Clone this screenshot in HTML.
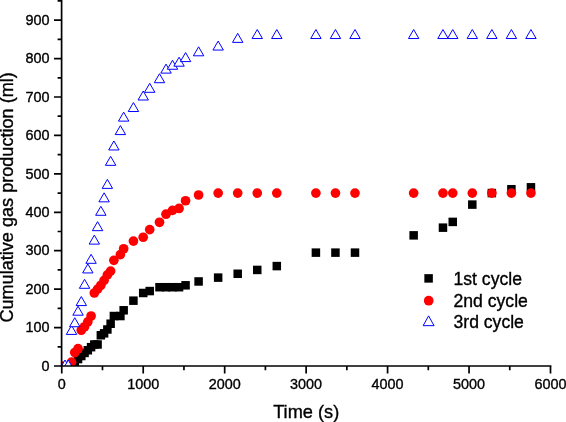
<!DOCTYPE html>
<html lang="en"><head><meta charset="utf-8"><title>Cumulative gas production</title>
<style>html,body{margin:0;padding:0;background:#fff;overflow:hidden}svg{display:block}text{font-family:"Liberation Sans",Arial,sans-serif;fill:#000;stroke:#000;stroke-width:.35px}</style></head><body>
<svg width="566" height="422" viewBox="0 0 566 422">
<rect width="566" height="422" fill="#fff"/>
<defs><clipPath id="c"><rect x="61.4" y="0" width="505" height="366"/></clipPath></defs>
<g clip-path="url(#c)">
<g fill="#000"><rect x="70.53" y="359.83" width="8.5" height="8.5"/><rect x="73.79" y="354.83" width="8.5" height="8.5"/><rect x="77.05" y="351.76" width="8.5" height="8.5"/><rect x="80.31" y="348.68" width="8.5" height="8.5"/><rect x="83.57" y="345.99" width="8.5" height="8.5"/><rect x="86.83" y="342.92" width="8.5" height="8.5"/><rect x="90.08" y="340.23" width="8.5" height="8.5"/><rect x="93.34" y="340.23" width="8.5" height="8.5"/><rect x="96.60" y="331.01" width="8.5" height="8.5"/><rect x="99.86" y="329.09" width="8.5" height="8.5"/><rect x="103.12" y="325.24" width="8.5" height="8.5"/><rect x="106.38" y="319.48" width="8.5" height="8.5"/><rect x="109.63" y="311.79" width="8.5" height="8.5"/><rect x="116.15" y="311.79" width="8.5" height="8.5"/><rect x="119.41" y="306.03" width="8.5" height="8.5"/><rect x="129.18" y="296.42" width="8.5" height="8.5"/><rect x="138.96" y="288.74" width="8.5" height="8.5"/><rect x="145.47" y="286.82" width="8.5" height="8.5"/><rect x="155.25" y="282.97" width="8.5" height="8.5"/><rect x="161.77" y="282.97" width="8.5" height="8.5"/><rect x="168.28" y="282.97" width="8.5" height="8.5"/><rect x="174.80" y="282.97" width="8.5" height="8.5"/><rect x="181.32" y="281.05" width="8.5" height="8.5"/><rect x="194.35" y="277.21" width="8.5" height="8.5"/><rect x="213.90" y="273.37" width="8.5" height="8.5"/><rect x="233.45" y="269.52" width="8.5" height="8.5"/><rect x="253.00" y="265.68" width="8.5" height="8.5"/><rect x="272.55" y="261.84" width="8.5" height="8.5"/><rect x="311.65" y="248.39" width="8.5" height="8.5"/><rect x="331.20" y="248.39" width="8.5" height="8.5"/><rect x="350.75" y="248.39" width="8.5" height="8.5"/><rect x="409.40" y="231.10" width="8.5" height="8.5"/><rect x="438.72" y="223.41" width="8.5" height="8.5"/><rect x="448.50" y="217.65" width="8.5" height="8.5"/><rect x="468.05" y="200.35" width="8.5" height="8.5"/><rect x="487.60" y="188.82" width="8.5" height="8.5"/><rect x="507.15" y="184.98" width="8.5" height="8.5"/><rect x="526.70" y="183.06" width="8.5" height="8.5"/></g>
<g fill="#f00"><circle cx="61.75" cy="366.00" r="4.85"/><circle cx="71.53" cy="362.16" r="4.85"/><circle cx="74.78" cy="352.55" r="4.85"/><circle cx="78.04" cy="348.71" r="4.85"/><circle cx="81.30" cy="330.26" r="4.85"/><circle cx="84.56" cy="326.80" r="4.85"/><circle cx="87.82" cy="321.81" r="4.85"/><circle cx="91.08" cy="316.04" r="4.85"/><circle cx="94.33" cy="292.99" r="4.85"/><circle cx="97.59" cy="289.14" r="4.85"/><circle cx="100.85" cy="285.30" r="4.85"/><circle cx="104.11" cy="280.31" r="4.85"/><circle cx="107.37" cy="274.93" r="4.85"/><circle cx="110.62" cy="271.08" r="4.85"/><circle cx="113.88" cy="260.32" r="4.85"/><circle cx="120.40" cy="254.56" r="4.85"/><circle cx="123.66" cy="248.80" r="4.85"/><circle cx="133.43" cy="241.11" r="4.85"/><circle cx="143.21" cy="237.27" r="4.85"/><circle cx="149.72" cy="229.58" r="4.85"/><circle cx="159.50" cy="222.28" r="4.85"/><circle cx="166.02" cy="214.21" r="4.85"/><circle cx="172.53" cy="210.37" r="4.85"/><circle cx="179.05" cy="208.45" r="4.85"/><circle cx="185.57" cy="200.76" r="4.85"/><circle cx="198.60" cy="195.00" r="4.85"/><circle cx="218.15" cy="193.07" r="4.85"/><circle cx="237.70" cy="193.07" r="4.85"/><circle cx="257.25" cy="193.07" r="4.85"/><circle cx="276.80" cy="193.07" r="4.85"/><circle cx="315.90" cy="193.07" r="4.85"/><circle cx="335.45" cy="193.07" r="4.85"/><circle cx="355.00" cy="193.07" r="4.85"/><circle cx="413.65" cy="193.07" r="4.85"/><circle cx="442.97" cy="193.07" r="4.85"/><circle cx="452.75" cy="193.07" r="4.85"/><circle cx="472.30" cy="193.07" r="4.85"/><circle cx="491.85" cy="193.07" r="4.85"/><circle cx="511.40" cy="193.07" r="4.85"/><circle cx="530.95" cy="193.07" r="4.85"/></g>
<g fill="#fff" stroke="#00f" stroke-width="1"><path d="M65.01 360.00L70.21 369.00L59.81 369.00Z"/><path d="M68.27 360.00L73.47 369.00L63.07 369.00Z"/><path d="M71.53 325.41L76.73 334.41L66.33 334.41Z"/><path d="M74.78 317.73L79.98 326.73L69.58 326.73Z"/><path d="M78.04 306.20L83.24 315.20L72.84 315.20Z"/><path d="M81.30 296.59L86.50 305.59L76.10 305.59Z"/><path d="M84.56 279.30L89.76 288.30L79.36 288.30Z"/><path d="M87.82 263.93L93.02 272.93L82.62 272.93Z"/><path d="M91.08 254.32L96.28 263.32L85.88 263.32Z"/><path d="M94.33 235.11L99.53 244.11L89.13 244.11Z"/><path d="M97.59 221.66L102.79 230.66L92.39 230.66Z"/><path d="M100.85 206.29L106.05 215.29L95.65 215.29Z"/><path d="M104.11 192.84L109.31 201.84L98.91 201.84Z"/><path d="M107.37 179.39L112.57 188.39L102.17 188.39Z"/><path d="M110.62 156.33L115.83 165.33L105.42 165.33Z"/><path d="M113.88 140.96L119.08 149.96L108.68 149.96Z"/><path d="M120.40 125.59L125.60 134.59L115.20 134.59Z"/><path d="M123.66 112.14L128.86 121.14L118.46 121.14Z"/><path d="M133.43 102.53L138.63 111.53L128.23 111.53Z"/><path d="M143.21 91.01L148.41 100.01L138.01 100.01Z"/><path d="M149.72 83.32L154.92 92.32L144.53 92.32Z"/><path d="M159.50 73.71L164.70 82.71L154.30 82.71Z"/><path d="M166.02 64.11L171.22 73.11L160.82 73.11Z"/><path d="M172.53 60.26L177.73 69.26L167.33 69.26Z"/><path d="M179.05 57.19L184.25 66.19L173.85 66.19Z"/><path d="M185.57 52.58L190.77 61.58L180.37 61.58Z"/><path d="M198.60 46.81L203.80 55.81L193.40 55.81Z"/><path d="M218.15 41.05L223.35 50.05L212.95 50.05Z"/><path d="M237.70 33.36L242.90 42.36L232.50 42.36Z"/><path d="M257.25 29.52L262.45 38.52L252.05 38.52Z"/><path d="M276.80 29.52L282.00 38.52L271.60 38.52Z"/><path d="M315.90 29.52L321.10 38.52L310.70 38.52Z"/><path d="M335.45 29.52L340.65 38.52L330.25 38.52Z"/><path d="M355.00 29.52L360.20 38.52L349.80 38.52Z"/><path d="M413.65 29.52L418.85 38.52L408.45 38.52Z"/><path d="M442.97 29.52L448.17 38.52L437.77 38.52Z"/><path d="M452.75 29.52L457.95 38.52L447.55 38.52Z"/><path d="M472.30 29.52L477.50 38.52L467.10 38.52Z"/><path d="M491.85 29.52L497.05 38.52L486.65 38.52Z"/><path d="M511.40 29.52L516.60 38.52L506.20 38.52Z"/><path d="M530.95 29.52L536.15 38.52L525.75 38.52Z"/></g>
</g>
<g stroke="#000" stroke-width="1.7" fill="none">
<path d="M61.6 0V366.85"/><path d="M60.75 366H551.35"/>
<path d="M54.00 366.00H61.6M57.60 346.79H61.6M54.00 327.57H61.6M57.60 308.36H61.6M54.00 289.14H61.6M57.60 269.93H61.6M54.00 250.72H61.6M57.60 231.50H61.6M54.00 212.29H61.6M57.60 193.07H61.6M54.00 173.86H61.6M57.60 154.65H61.6M54.00 135.43H61.6M57.60 116.22H61.6M54.00 97.01H61.6M57.60 77.79H61.6M54.00 58.58H61.6M57.60 39.36H61.6M54.00 20.15H61.6M57.60 0.94H61.6M61.75 366V373.50M102.48 366V370.20M143.21 366V373.50M183.94 366V370.20M224.67 366V373.50M265.40 366V370.20M306.12 366V373.50M346.85 366V370.20M387.58 366V373.50M428.31 366V370.20M469.04 366V373.50M509.77 366V370.20M550.50 366V373.50"/>
</g>
<g font-size="14.4">
<text x="49.4" y="370.70" text-anchor="end">0</text>
<text x="49.4" y="332.27" text-anchor="end">100</text>
<text x="49.4" y="293.84" text-anchor="end">200</text>
<text x="49.4" y="255.42" text-anchor="end">300</text>
<text x="49.4" y="216.99" text-anchor="end">400</text>
<text x="49.4" y="178.56" text-anchor="end">500</text>
<text x="49.4" y="140.13" text-anchor="end">600</text>
<text x="49.4" y="101.71" text-anchor="end">700</text>
<text x="49.4" y="63.28" text-anchor="end">800</text>
<text x="49.4" y="24.85" text-anchor="end">900</text>
<text x="61.75" y="389.1" text-anchor="middle">0</text>
<text x="143.21" y="389.1" text-anchor="middle">1000</text>
<text x="224.67" y="389.1" text-anchor="middle">2000</text>
<text x="306.12" y="389.1" text-anchor="middle">3000</text>
<text x="387.58" y="389.1" text-anchor="middle">4000</text>
<text x="469.04" y="389.1" text-anchor="middle">5000</text>
<text x="550.50" y="389.1" text-anchor="middle">6000</text>
</g>
<text font-size="18.1" text-anchor="middle" transform="translate(13.1 197.4) rotate(-90)">Cumulative gas production (ml)</text>
<text font-size="18.2" x="306.2" y="417.5" text-anchor="middle">Time (s)</text>
<g font-size="17.6">
<g fill="#000"><rect x="424.35" y="274.15" width="8.5" height="8.5"/></g><text x="453.5" y="284.6">1st cycle</text>
<g fill="#f00"><circle cx="428.70" cy="300.70" r="4.85"/></g><text x="453.5" y="306.5">2nd cycle</text>
<g fill="#fff" stroke="#00f" stroke-width="1"><path d="M428.60 315.87L434.05 325.67L423.15 325.67Z"/></g><text x="453.5" y="328.2">3rd cycle</text>
</g>
</svg></body></html>
